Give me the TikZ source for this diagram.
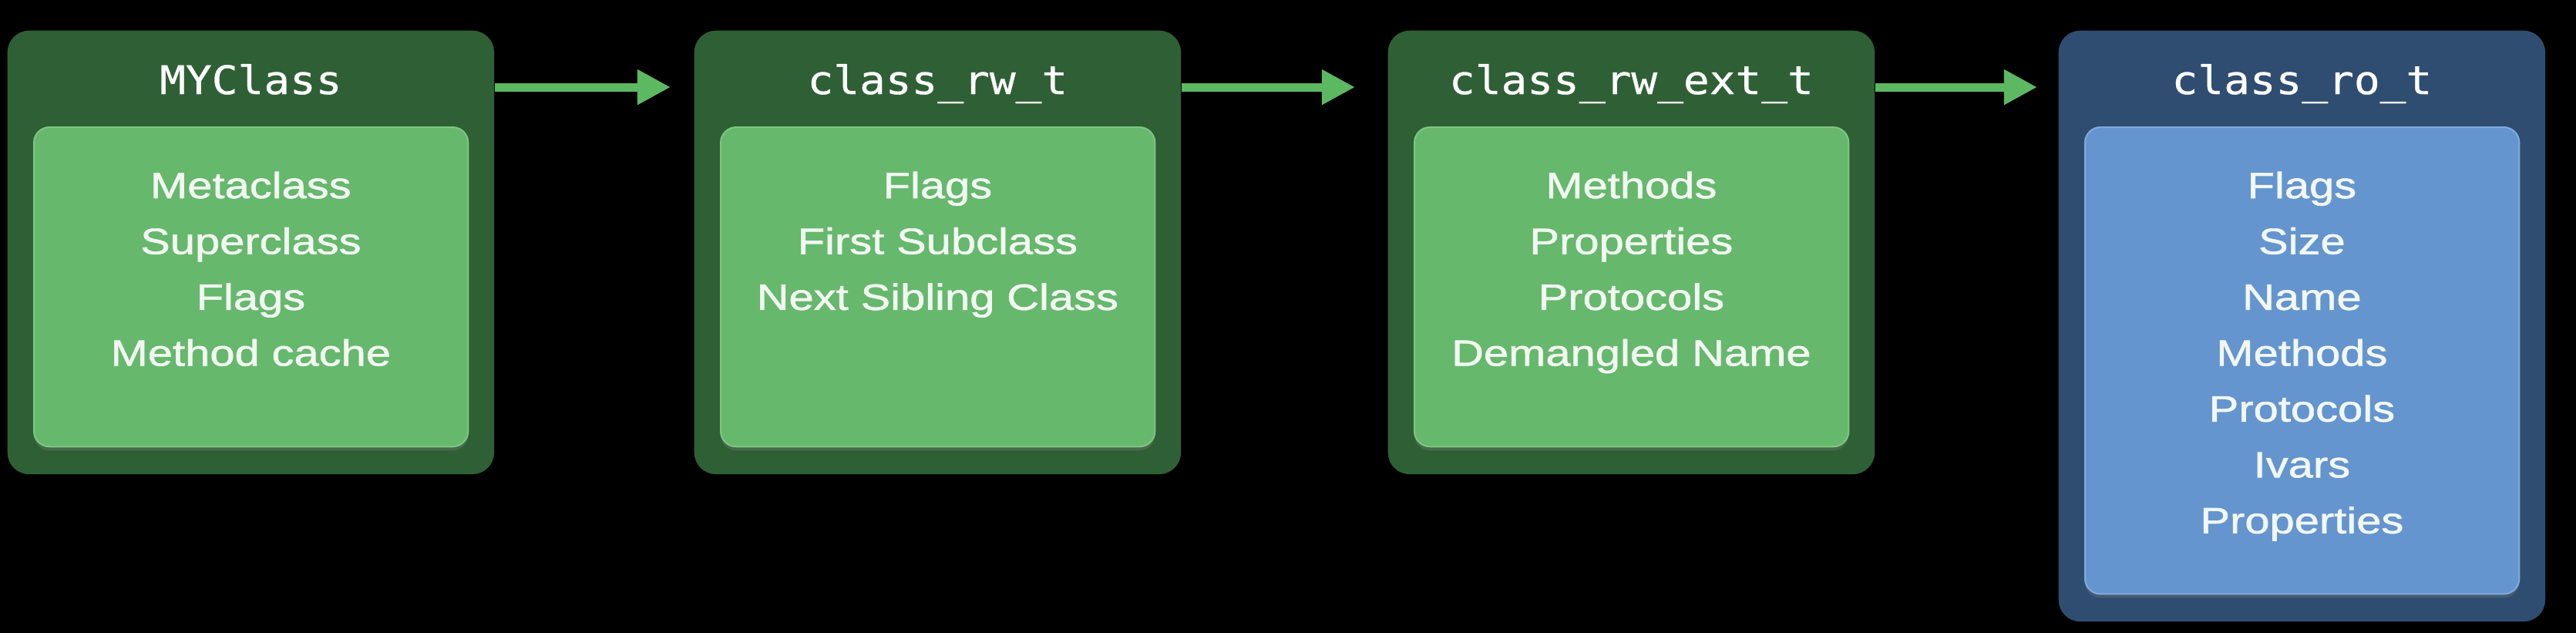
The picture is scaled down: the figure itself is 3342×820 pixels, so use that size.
\documentclass[tikz,border=0pt]{standalone}
\usepackage{fontspec}
\setmainfont[FakeStretch=1.22,FakeBold=1.3]{Liberation Sans}
\setmonofont[FakeStretch=1.1,FakeBold=0.6]{DejaVu Sans Mono}
\usetikzlibrary{arrows.meta,shadows}
\definecolor{gdark}{HTML}{2F6035}
\definecolor{glight}{HTML}{66B86C}
\definecolor{gedge}{HTML}{7DC783}
\definecolor{garrow}{HTML}{5DB862}
\definecolor{bdark}{HTML}{2F4D70}
\definecolor{blight}{HTML}{6495CF}
\definecolor{bedge}{HTML}{80ACDF}
\definecolor{txt}{HTML}{F2F7F2}

\begin{document}
\begin{tikzpicture}[x=0.01cm,y=-0.01cm,
    outbox/.style={rounded corners=0.28cm, inner sep=0, anchor=north west, minimum width=6.31cm},
    inbox/.style={rounded corners=0.2cm, inner sep=0, anchor=north west, line width=0.02cm,
      minimum width=5.63cm, drop shadow={opacity=0.3, shadow xshift=0cm, shadow yshift=-0.05cm}},
    title/.style={anchor=base, text=white, font=\ttfamily\fontsize{14.5pt}{17pt}\selectfont},
    items/.style={anchor=base, text=txt, text width=5.4cm, align=center,
      font=\fontsize{13.5pt}{20.6pt}\selectfont},
    arr/.style={draw=garrow, line width=0.11cm, -{Triangle[length=0.43cm,width=0.43cm]}}]
  \useasboundingbox (0,0) rectangle (3342,820);
  \fill[black] (-10,-10) rectangle (3352,830);

  % MYClass
  \node[outbox, fill=gdark, minimum height=5.75cm] (out1) at (9,39) {};
  \node[title] (ttl1) at (out1.north |- 0,122) {MYClass};
  \node[inbox, fill=glight, draw=gedge, minimum height=4.14cm] (in1) at (43,164) {};
  \node[items] (txt1) at (out1.north |- 0,257) {Metaclass\\Superclass\\Flags\\Method cache};

  % class_rw_t
  \node[outbox, fill=gdark, minimum height=5.75cm] (out2) at (900,39) {};
  \node[title] (ttl2) at (out2.north |- 0,122) {class\_rw\_t};
  \node[inbox, fill=glight, draw=gedge, minimum height=4.14cm] (in2) at (934,164) {};
  \node[items] (txt2) at (out2.north |- 0,257) {Flags\\First Subclass\\Next Sibling Class};

  % class_rw_ext_t
  \node[outbox, fill=gdark, minimum height=5.75cm] (out3) at (1800,39) {};
  \node[title] (ttl3) at (out3.north |- 0,122) {class\_rw\_ext\_t};
  \node[inbox, fill=glight, draw=gedge, minimum height=4.14cm] (in3) at (1834,164) {};
  \node[items] (txt3) at (out3.north |- 0,257) {Methods\\Properties\\Protocols\\Demangled Name};

  % class_ro_t
  \node[outbox, fill=bdark, minimum height=7.66cm] (out4) at (2670,39) {};
  \node[title] (ttl4) at (out4.north |- 0,122) {class\_ro\_t};
  \node[inbox, fill=blight, draw=bedge, minimum height=6.05cm] (in4) at (2704,164) {};
  \node[items] (txt4) at (out4.north |- 0,257) {Flags\\Size\\Name\\Methods\\Protocols\\Ivars\\Properties};

  \draw[arr] ([yshift=-0.74cm]out1.north east) -- ([yshift=-0.74cm,xshift=-0.30cm]out2.north west);
  \draw[arr] ([yshift=-0.74cm]out2.north east) -- ([yshift=-0.74cm,xshift=-0.42cm]out3.north west);
  \draw[arr] ([yshift=-0.74cm]out3.north east) -- ([yshift=-0.74cm,xshift=-0.27cm]out4.north west);
\end{tikzpicture}
\end{document}
